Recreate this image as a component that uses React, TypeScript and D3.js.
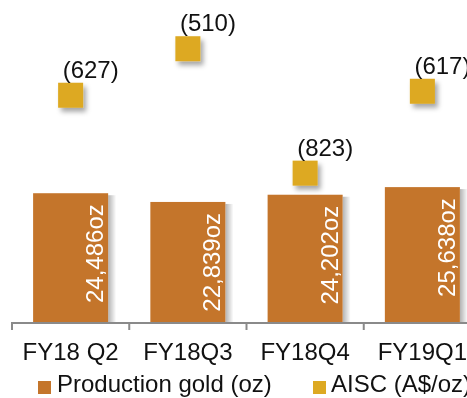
import React from "react";
import * as d3 from "d3";

const categories = ["FY18 Q2", "FY18Q3", "FY18Q4", "FY19Q1"];
const production = [24486, 22839, 24202, 25638];
const aisc = [627, 510, 823, 617];
const seriesNames = ["Production gold (oz)", "AISC (A$/oz)"];

const W = 467;
const H = 398;
const BAR = "#C4752B";
const SQ = "#DDA922";
const FONT = "'Liberation Sans', Arial, sans-serif";
const FS = 24;

export default function App() {
  const plot = { left: 12, right: 481, top: 5, bottom: 323 };

  const x = d3.scaleBand<string>()
    .domain(categories)
    .range([plot.left, plot.right])
    .paddingInner(0.36)
    .paddingOuter(0.18);

  const y = d3.scaleLinear().domain([0, 60000]).range([plot.bottom, plot.top]);
  // secondary axis, reversed (lower cost sits higher)
  const y2 = d3.scaleLinear().domain([400, 1200]).range([plot.top, plot.bottom]);

  const step = x.step();
  const ticks = d3.range(categories.length + 1).map(i => plot.left + i * step);
  const fmt = d3.format(",");
  const sq = 25;

  return (
    <svg width={W} height={H} style={{ position: "fixed", left: 0, top: 0 }} fontFamily={FONT}>
      <defs>
        <filter id="sqShadow" x="-30%" y="-30%" width="180%" height="180%">
          <feDropShadow dx="3" dy="4" stdDeviation="2.5" floodColor="#000" floodOpacity="0.35" />
        </filter>
        <linearGradient id="barShadow" x1="0" x2="1" y1="0" y2="0">
          <stop offset="0" stopColor="#000" stopOpacity="0.3" />
          <stop offset="1" stopColor="#000" stopOpacity="0" />
        </linearGradient>
      </defs>

      {categories.map((c, i) => {
        const bx = x(c)!;
        const by = y(production[i]);
        const bw = x.bandwidth();
        return (
          <g key={c}>
            <rect x={bx + bw} y={by + 2} width={8} height={plot.bottom - by - 2} fill="url(#barShadow)" />
            <rect x={bx} y={by} width={bw} height={plot.bottom - by} fill={BAR} />
            <text
              transform={`translate(${bx + bw - 5},${by + 11}) rotate(-90)`}
              textAnchor="end"
              fontSize={FS}
              fill="#fff"
            >
              {fmt(production[i])}oz
            </text>
          </g>
        );
      })}

      <path
        d={`M${plot.left},${plot.bottom + 7}V${plot.bottom}H${W}`}
        fill="none"
        stroke="#8a8a8a"
        strokeWidth={2}
      />
      {ticks.slice(1).map(t => (
        <line key={t} x1={t} x2={t} y1={plot.bottom} y2={plot.bottom + 7} stroke="#8a8a8a" strokeWidth={2} />
      ))}

      {categories.map(c => (
        <text key={c} x={x(c)! + x.bandwidth() / 2} y={360} textAnchor="middle" fontSize={FS} fill="#111">
          {c}
        </text>
      ))}

      {categories.map((c, i) => {
        const cx = x(c)! + x.bandwidth() / 2;
        const cy = y2(aisc[i]);
        return (
          <g key={c + "a"}>
            <rect x={cx - sq / 2} y={cy - sq / 2} width={sq} height={sq} fill={SQ} filter="url(#sqShadow)" />
            <text x={cx - 8} y={cy - sq / 2 - 5} fontSize={FS} fill="#111">
              ({aisc[i]})
            </text>
          </g>
        );
      })}

      <g>
        <rect x={38} y={381} width={13} height={13} fill={BAR} />
        <text x={57} y={392} fontSize={FS} fill="#111">{seriesNames[0]}</text>
        <rect x={313} y={381} width={13} height={13} fill={SQ} />
        <text x={331} y={392} fontSize={FS} fill="#111">{seriesNames[1]}</text>
      </g>
    </svg>
  );
}
